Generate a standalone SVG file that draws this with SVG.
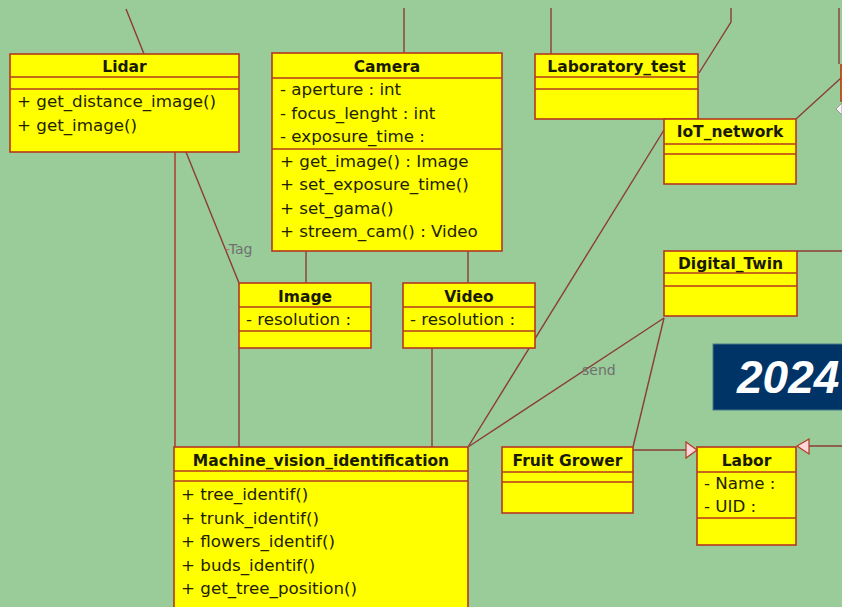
<svg xmlns="http://www.w3.org/2000/svg" width="842" height="607" viewBox="0 0 842 607">
<defs>
<style>
.box{fill:#FFFF00;stroke:#B4381F;stroke-width:1.6}
.sep{stroke:#B4381F;stroke-width:1.4}
.hd{font-family:"DejaVu Sans",sans-serif;font-weight:bold;font-size:15.5px;fill:#1a1a00;text-anchor:middle}
.tx{font-family:"DejaVu Sans",sans-serif;font-size:16.7px;fill:#222200}
.cn{fill:none;stroke:#8C3B3B;stroke-width:1.4}
.lbl{font-family:"DejaVu Sans",sans-serif;font-size:14px;fill:#707070}
.tri{fill:#FFD6DC;stroke:#B4381F;stroke-width:1.2}
</style>
</defs>
<rect width="842" height="607" fill="#99CC99"/>

<g id="connectors">
<line class="cn" x1="126" y1="9" x2="144" y2="54"/>
<line class="cn" x1="404" y1="8" x2="404" y2="53"/>
<line class="cn" x1="551" y1="8" x2="551" y2="54"/>
<polyline class="cn" points="731,8 731,22 699,73"/>
<polyline class="cn" points="839,8 839,64"/>
<line class="cn" x1="796" y1="119" x2="841" y2="78"/>
<line class="cn" x1="175" y1="152" x2="175" y2="447" style="stroke:#B0302A"/>
<line class="cn" x1="186" y1="152" x2="239" y2="283"/>
<line class="cn" x1="306" y1="251" x2="306" y2="283"/>
<line class="cn" x1="468" y1="251" x2="468" y2="283"/>
<line class="cn" x1="239" y1="348" x2="239" y2="447"/>
<line class="cn" x1="432" y1="348" x2="432" y2="447"/>
<line class="cn" x1="664" y1="130" x2="468" y2="447"/>
<line class="cn" x1="664" y1="318" x2="468" y2="447"/>
<line class="cn" x1="664" y1="318" x2="633" y2="447"/>
<line class="cn" x1="797" y1="251" x2="842" y2="251"/>
<line class="cn" x1="633" y1="450" x2="686" y2="450"/>
<polygon class="tri" points="686,442 697,450 686,458"/>
<line class="cn" x1="808" y1="446" x2="842" y2="446"/>
<polygon class="tri" points="809,439 797,446 809,454"/>
<polygon points="842,103 836,109 842,115" fill="#F4F4F4" stroke="#999" stroke-width="1"/>
<text class="lbl" x="225" y="254"><tspan fill="#C86A6A">-</tspan>Tag</text>
<text class="lbl" x="582" y="375">send</text>
</g>

<g id="edge-box">
<rect x="841" y="65" width="4" height="36" class="box"/>
</g>

<g id="Lidar">
<rect class="box" x="10" y="54" width="229" height="98"/>
<line class="sep" x1="10" y1="77" x2="239" y2="77"/>
<line class="sep" x1="10" y1="89" x2="239" y2="89"/>
<text class="hd" x="124.5" y="72">Lidar</text>
<text class="tx" x="17" y="107">+ get_distance_image()</text>
<text class="tx" x="17" y="131">+ get_image()</text>
</g>

<g id="Camera">
<rect class="box" x="272" y="53" width="230" height="198"/>
<line class="sep" x1="272" y1="78" x2="502" y2="78"/>
<line class="sep" x1="272" y1="149" x2="502" y2="149"/>
<text class="hd" x="387" y="72">Camera</text>
<text class="tx" x="280" y="95">- aperture : int</text>
<text class="tx" x="280" y="119">- focus_lenght : int</text>
<text class="tx" x="280" y="142">- exposure_time :</text>
<text class="tx" x="280" y="167">+ get_image() : Image</text>
<text class="tx" x="280" y="190">+ set_exposure_time()</text>
<text class="tx" x="280" y="214">+ set_gama()</text>
<text class="tx" x="280" y="237">+ streem_cam() : Video</text>
</g>

<g id="Laboratory_test">
<rect class="box" x="535" y="54" width="163" height="65"/>
<line class="sep" x1="535" y1="77" x2="698" y2="77"/>
<line class="sep" x1="535" y1="89" x2="698" y2="89"/>
<text class="hd" x="616.5" y="72">Laboratory_test</text>
</g>

<g id="IoT_network">
<rect class="box" x="664" y="119" width="132" height="65"/>
<line class="sep" x1="664" y1="144" x2="796" y2="144"/>
<line class="sep" x1="664" y1="154" x2="796" y2="154"/>
<text class="hd" x="730" y="137">IoT_network</text>
</g>

<g id="Digital_Twin">
<rect class="box" x="664" y="251" width="133" height="65"/>
<line class="sep" x1="664" y1="273" x2="797" y2="273"/>
<line class="sep" x1="664" y1="286" x2="797" y2="286"/>
<text class="hd" x="730.5" y="269">Digital_Twin</text>
</g>

<g id="Image">
<rect class="box" x="239" y="283" width="132" height="65"/>
<line class="sep" x1="239" y1="307" x2="371" y2="307"/>
<line class="sep" x1="239" y1="331" x2="371" y2="331"/>
<text class="hd" x="305" y="302">Image</text>
<text class="tx" x="246" y="325">- resolution :</text>
</g>

<g id="Video">
<rect class="box" x="403" y="283" width="132" height="65"/>
<line class="sep" x1="403" y1="307" x2="535" y2="307"/>
<line class="sep" x1="403" y1="331" x2="535" y2="331"/>
<text class="hd" x="469" y="302">Video</text>
<text class="tx" x="410" y="325">- resolution :</text>
</g>

<g id="Machine_vision_identification">
<rect class="box" x="174" y="447" width="294" height="170"/>
<line class="sep" x1="174" y1="471" x2="468" y2="471"/>
<line class="sep" x1="174" y1="481" x2="468" y2="481"/>
<text class="hd" x="321" y="466">Machine_vision_identification</text>
<text class="tx" x="181" y="500">+ tree_identif()</text>
<text class="tx" x="181" y="524">+ trunk_identif()</text>
<text class="tx" x="181" y="547">+ flowers_identif()</text>
<text class="tx" x="181" y="571">+ buds_identif()</text>
<text class="tx" x="181" y="594">+ get_tree_position()</text>
</g>

<g id="Fruit_Grower">
<rect class="box" x="502" y="447" width="131" height="66"/>
<line class="sep" x1="502" y1="472" x2="633" y2="472"/>
<line class="sep" x1="502" y1="482" x2="633" y2="482"/>
<text class="hd" x="567.5" y="466">Fruit Grower</text>
</g>

<g id="Labor">
<rect class="box" x="697" y="447" width="99" height="98"/>
<line class="sep" x1="697" y1="472" x2="796" y2="472"/>
<line class="sep" x1="697" y1="518" x2="796" y2="518"/>
<text class="hd" x="746.5" y="466">Labor</text>
<text class="tx" x="704" y="489">- Name :</text>
<text class="tx" x="704" y="512">- UID :</text>
</g>

<g id="year">
<rect x="713" y="344" width="135" height="66" fill="#003366" stroke="#4a7a8a" stroke-width="1"/>
<text x="737" y="393" font-family="Liberation Sans, Arial, sans-serif" font-weight="bold" font-style="italic" font-size="46" fill="#FFFFFF">2024</text>
</g>
</svg>
